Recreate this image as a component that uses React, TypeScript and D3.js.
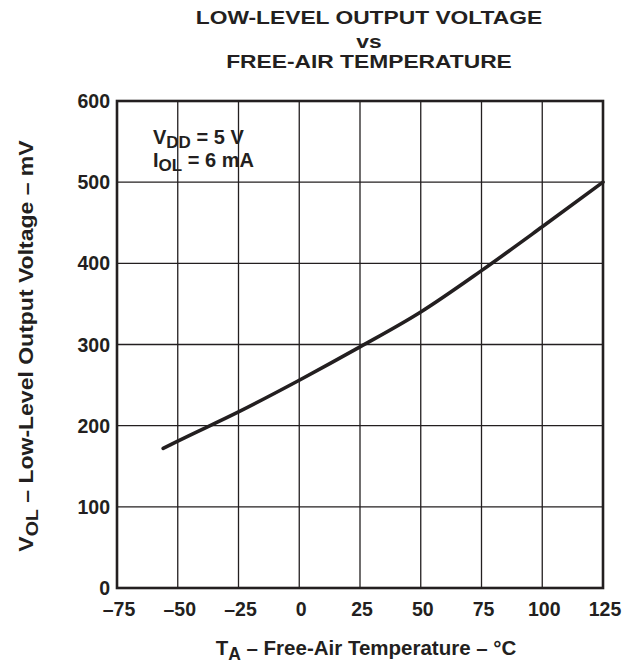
import React from "react";
import * as d3 from "d3";

const titleLines = ["LOW-LEVEL OUTPUT VOLTAGE", "vs", "FREE-AIR TEMPERATURE"];
const xTicks = [-75, -50, -25, 0, 25, 50, 75, 100, 125];
const yTicks = [0, 100, 200, 300, 400, 500, 600];
const temps = [-56, -50, -25, 0, 25, 50, 75, 100, 125];
const vol = [172, 181, 217, 256, 297, 340, 391, 445, 500];

const W = 637;
const H = 665;
const M = { left: 117, right: 603, top: 101, bottom: 588 };
const FONT = "'Liberation Sans', Arial, Helvetica, sans-serif";
const INK = "#231f20";

export default function App() {
  const x = d3.scaleLinear().domain([-75, 125]).range([M.left, M.right]);
  const y = d3.scaleLinear().domain([0, 600]).range([M.bottom, M.top]);
  const line = d3
    .line<number>()
    .x((_, i) => x(temps[i]))
    .y((d) => y(d))
    .curve(d3.curveMonotoneX);
  const fmt = (v: number) => (v < 0 ? "\u2013" + Math.abs(v) : String(v));
  const tcx = 369;

  return (
    <svg
      width={W}
      height={H}
      style={{ position: "absolute", left: 0, top: 0, background: "#fff" }}
      fontFamily={FONT}
      fontWeight="bold"
      fill={INK}
    >
      {/* title */}
      <g transform={`translate(${tcx},0) scale(1.2,1)`}>
        <text x={0} y={24} fontSize={19} textAnchor="middle">{titleLines[0]}</text>
        <text x={0} y={48} fontSize={19} textAnchor="middle">{titleLines[1]}</text>
        <text x={0} y={68} fontSize={19} textAnchor="middle">{titleLines[2]}</text>
      </g>

      {/* grid */}
      {xTicks.slice(1, -1).map((t) => (
        <line key={"gx" + t} x1={x(t)} x2={x(t)} y1={M.top} y2={M.bottom} stroke={INK} strokeWidth={1.3} />
      ))}
      {yTicks.slice(1, -1).map((t) => (
        <line key={"gy" + t} x1={M.left} x2={M.right} y1={y(t)} y2={y(t)} stroke={INK} strokeWidth={1.3} />
      ))}
      <rect x={M.left} y={M.top} width={M.right - M.left} height={M.bottom - M.top} fill="none" stroke={INK} strokeWidth={2.6} />

      {/* curve */}
      <path d={line(vol) || ""} fill="none" stroke={INK} strokeWidth={3.6} strokeLinecap="round" />

      {/* y tick labels */}
      {yTicks.map((t) => (
        <text key={"yl" + t} x={110} y={y(t) + 7} fontSize={19.5} textAnchor="end">{fmt(t)}</text>
      ))}
      {/* x tick labels */}
      {xTicks.map((t) => (
        <text key={"xl" + t} x={x(t) + 2} y={616} fontSize={19.5} textAnchor="middle">{fmt(t)}</text>
      ))}

      {/* legend */}
      <text x={153} y={144} fontSize={20}>
        V<tspan fontSize={17} dy={4}>DD</tspan><tspan dy={-4}> = 5 V</tspan>
      </text>
      <text x={153} y={167} fontSize={20}>
        I<tspan fontSize={17} dy={4}>OL</tspan><tspan dy={-4}> = 6 mA</tspan>
      </text>

      {/* x axis title */}
      <text x={366} y={655} fontSize={20.5} textAnchor="middle">
        T<tspan fontSize={17.5} dy={5}>A</tspan><tspan dy={-5}> – Free-Air Temperature – °C</tspan>
      </text>

      {/* y axis title */}
      <g transform={`translate(33, 346) rotate(-90) scale(1.15,1)`}>
        <text x={0} y={0} fontSize={20} textAnchor="middle">
          V<tspan fontSize={17} dy={5}>OL</tspan><tspan dy={-5}> – Low-Level Output Voltage – mV</tspan>
        </text>
      </g>
    </svg>
  );
}
